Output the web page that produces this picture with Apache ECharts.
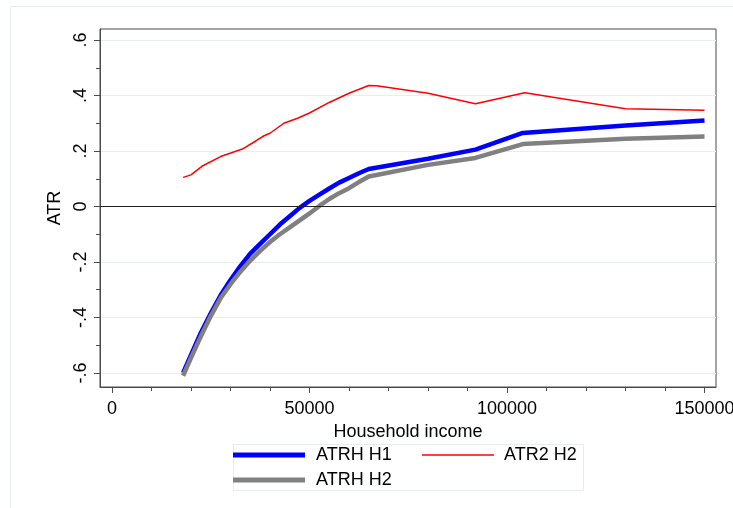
<!DOCTYPE html>
<html>
<head>
<meta charset="utf-8">
<script src="https://cdn.jsdelivr.net/npm/echarts@6/dist/echarts.min.js"></script>
<style>
  html, body { margin: 0; padding: 0; background: #fff; }
  #chart { width: 733px; height: 508px; }
</style>
</head>
<body>
<div id="chart"></div>
<script>
// Household income grid shared by the two ATRH curves
const incomeH = [18000, 20000, 22500, 25000, 27500, 30000, 32500, 35000, 37500, 40000,
                 42500, 45000, 47500, 50000, 52500, 55000, 57500, 60000, 62500, 65000,
                 80000, 92000, 104000, 130000, 150000];
const atrhH1 = [-0.600, -0.535, -0.455, -0.385, -0.320, -0.265, -0.215, -0.170, -0.135, -0.100,
                -0.065, -0.035, -0.005, 0.020, 0.043, 0.065, 0.086, 0.103, 0.120, 0.135,
                0.172, 0.205, 0.265, 0.292, 0.310];
const atrhH2 = [-0.610, -0.545, -0.468, -0.395, -0.330, -0.280, -0.235, -0.195, -0.160, -0.128,
                -0.100, -0.075, -0.050, -0.025, 0.002, 0.027, 0.048, 0.066, 0.088, 0.108,
                0.150, 0.175, 0.225, 0.244, 0.252];

// ATR2 H2 curve
const incomeR = [18000, 20000, 23000, 27500, 33000, 36500, 38500, 40000, 43500, 47000,
                 50000, 55000, 60000, 65000, 67000, 80000, 92000, 104500, 130000, 150000];
const atr2H2 = [0.105, 0.114, 0.147, 0.180, 0.207, 0.237, 0.255, 0.264, 0.300, 0.318,
                0.337, 0.375, 0.408, 0.436, 0.435, 0.408, 0.370, 0.410, 0.352, 0.347];

// Axis ticks
const xMajor = [0, 50000, 100000, 150000];
const xMinor = [10000, 20000, 30000, 40000, 60000, 70000, 80000, 90000, 110000, 120000, 130000, 140000];
const yMajor = [-0.6, -0.4, -0.2, 0, 0.2, 0.4, 0.6];
const yMinor = [-0.5, -0.3, -0.1, 0.1, 0.3, 0.5];

const FONT = 'Liberation Sans, Arial, Helvetica, sans-serif';
const X_MIN = -3038, X_MAX = 152911;
const Y_MIN = -0.6505, Y_MAX = 0.6397;

const pairs = (xs, ys) => xs.map((x, i) => [x, ys[i]]);
const fmtX = v => String(v);
const fmtY = v => v === 0 ? '0' : (v < 0 ? '-' : '') + String(Math.abs(v)).replace(/^0/, '');

const chart = echarts.init(document.getElementById('chart'), null, { renderer: 'canvas' });

const axisColor = '#4a4a4a';
const legendText = { fontSize: 18, color: '#000', fontFamily: FONT, lineHeight: 18 };

chart.setOption({
  animation: false,
  backgroundColor: '#fff',
  textStyle: { fontFamily: FONT },
  grid: {
    left: 100, top: 29, width: 616, height: 358,
    outerBoundsMode: 'none', containLabel: false,
    show: true, borderColor: axisColor, borderWidth: 1, backgroundColor: 'transparent'
  },
  xAxis: [
    {
      type: 'value', min: X_MIN, max: X_MAX,
      axisLine: { show: true, onZero: false, lineStyle: { color: axisColor, width: 1 } },
      axisTick: { show: true, customValues: xMajor, length: 6, lineStyle: { color: axisColor } },
      axisLabel: { customValues: xMajor, formatter: fmtX, margin: 13, fontSize: 18,
                   color: '#000', fontFamily: FONT },
      splitLine: { show: false },
      name: 'Household income', nameLocation: 'middle', nameGap: 23,
      nameTextStyle: { fontSize: 18, color: '#000', fontFamily: FONT }
    },
    {
      type: 'value', min: X_MIN, max: X_MAX, position: 'bottom',
      axisLine: { show: false, onZero: false },
      axisTick: { show: true, customValues: xMinor, length: 4, lineStyle: { color: axisColor } },
      axisLabel: { show: false },
      splitLine: { show: false }
    }
  ],
  yAxis: [
    {
      type: 'value', min: Y_MIN, max: Y_MAX,
      axisLine: { show: true, onZero: false, lineStyle: { color: axisColor, width: 1 } },
      axisTick: { show: true, customValues: yMajor, length: 6, lineStyle: { color: axisColor } },
      axisLabel: { customValues: yMajor, rotate: 90, margin: 10, fontSize: 18, color: '#000',
                   fontFamily: FONT, formatter: fmtY },
      splitLine: { show: true, lineStyle: { color: '#e6eeee', width: 1 } },
      name: 'ATR', nameLocation: 'middle', nameGap: 27,
      nameTextStyle: { fontSize: 18, color: '#000', fontFamily: FONT }
    },
    {
      type: 'value', min: Y_MIN, max: Y_MAX, position: 'left',
      axisLine: { show: false, onZero: false },
      axisTick: { show: true, customValues: yMinor, length: 4, lineStyle: { color: axisColor } },
      axisLabel: { show: false },
      splitLine: { show: false }
    }
  ],
  legend: [
    {
      left: 233, top: 446, padding: 0, orient: 'vertical', itemGap: 7,
      icon: 'rect', itemWidth: 72, itemHeight: 5,
      data: ['ATRH H1', 'ATRH H2'],
      textStyle: Object.assign({ padding: [0, 0, 0, 6] }, legendText)
    },
    {
      left: 422, top: 446, padding: 0, orient: 'vertical',
      icon: 'rect', itemWidth: 72, itemHeight: 1.5,
      data: ['ATR2 H2'],
      textStyle: Object.assign({ padding: [0, 0, 0, 5] }, legendText)
    }
  ],
  graphic: [
    { type: 'rect', silent: true, z: -1,
      shape: { x: 10.5, y: 6.5, width: 760, height: 600 },
      style: { fill: 'none', stroke: '#e4ecec', lineWidth: 1 } },
    { type: 'rect', silent: true, z: -1,
      shape: { x: 233.5, y: 444.5, width: 350, height: 46 },
      style: { fill: 'none', stroke: '#e4ecec', lineWidth: 1 } }
  ],
  series: [
    {
      name: 'zero', type: 'line', data: [], z: 1, silent: true,
      markLine: {
        silent: true, symbol: 'none', label: { show: false },
        lineStyle: { color: '#222', width: 1, type: 'solid' },
        data: [{ yAxis: 0 }]
      }
    },
    {
      name: 'ATRH H1', type: 'line', data: pairs(incomeH, atrhH1), z: 3,
      symbol: 'none', lineStyle: { color: '#0000ff', width: 4.5 }, itemStyle: { color: '#0000ff' }
    },
    {
      name: 'ATR2 H2', type: 'line', data: pairs(incomeR, atr2H2), z: 3,
      symbol: 'none', lineStyle: { color: '#ff0000', width: 1.5 }, itemStyle: { color: '#ff0000' }
    },
    {
      name: 'ATRH H2', type: 'line', data: pairs(incomeH, atrhH2), z: 3,
      symbol: 'none', lineStyle: { color: '#808080', width: 4.5 }, itemStyle: { color: '#808080' }
    }
  ]
});
</script>
</body>
</html>
